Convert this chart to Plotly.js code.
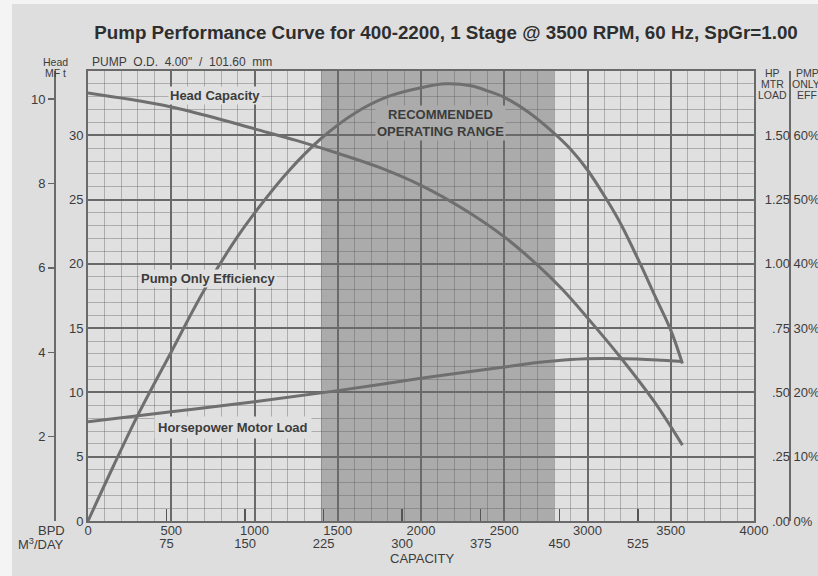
<!DOCTYPE html>
<html><head><meta charset="utf-8">
<script src="https://cdn.plot.ly/plotly-3.0.1.min.js"></script>
<style>html,body{margin:0;padding:0;background:#fff}#chart{width:818px;height:576px}</style>
</head><body><div id="chart"></div>
<script>
// ---- data ----
const headBpd = [0, 250, 500, 750, 1000, 1250, 1500, 1750, 2000, 2250, 2500, 2700, 2850, 3000, 3200, 3400, 3570];
const headFt  = [33.3, 32.8, 32.2, 31.4, 30.5, 29.6, 28.6, 27.5, 26.1, 24.3, 22.1, 19.9, 18.0, 15.8, 12.7, 9.3, 5.9];

const effBpd = [0, 150, 300, 500, 700, 900, 1000, 1200, 1400, 1600, 1800, 2000, 2150, 2300, 2400, 2500, 2650, 2800, 2900, 3000, 3115, 3200, 3315, 3400, 3500, 3570];
const effPct = [0, 8.4, 16.5, 26.3, 36.0, 44.3, 47.9, 54.3, 59.5, 63.4, 66.0, 67.4, 68.0, 67.7, 66.9, 65.9, 63.5, 60.3, 57.8, 54.6, 50.0, 46.2, 40.1, 35.3, 29.7, 24.5];

const hpBpd  = [0, 500, 1000, 1500, 2000, 2500, 2700, 2900, 3100, 3300, 3450, 3570];
const hpLoad = [0.386, 0.425, 0.464, 0.507, 0.555, 0.599, 0.616, 0.628, 0.632, 0.630, 0.625, 0.620];

const bpdTicks = [0, 500, 1000, 1500, 2000, 2500, 3000, 3500, 4000];
const m3Ticks = [75, 150, 225, 300, 375, 450, 525];
const headFtTicks = [0, 5, 10, 15, 20, 25, 30];
const headMTicks = [2, 4, 6, 8, 10];
const hpTicks = [0, 0.25, 0.5, 0.75, 1.0, 1.25, 1.5];
const hpTickText = ['.00', '.25', '.50', '.75', '1.00', '1.25', '1.50'];
const effTicks = [0, 10, 20, 30, 40, 50, 60];
const effTickText = ['0%', '10%', '20%', '30%', '40%', '50%', '60%'];
const recommendedRange = [1400, 2800];

const BBL_PER_M3 = 6.2898;
const FT_PER_M = 3.28084;
const BPD_MAX = 4000, FT_MAX = 35;

// ---- layout helpers (pixel -> paper, margins are 0) ----
const W = 818, H = 576;
const px = x => x / W;
const py = y => 1 - y / H;

const curveColor = '#6f6f6f';
const txt = '#3c3c3c';
const sans = 'Liberation Sans, Arial, sans-serif';

const traces = [
  {x: headBpd, y: headFt, xaxis: 'x', yaxis: 'y', mode: 'lines', line: {color: curveColor, width: 3, shape: 'spline', smoothing: 1}, hoverinfo: 'skip'},
  {x: effBpd, y: effPct, xaxis: 'x', yaxis: 'y4', mode: 'lines', line: {color: curveColor, width: 3, shape: 'spline', smoothing: 1}, hoverinfo: 'skip'},
  {x: hpBpd, y: hpLoad, xaxis: 'x', yaxis: 'y3', mode: 'lines', line: {color: curveColor, width: 3, shape: 'spline', smoothing: 1}, hoverinfo: 'skip'},
  // empty carriers so the secondary scales get drawn
  {x: m3Ticks, y: m3Ticks.map(() => null), xaxis: 'x2', yaxis: 'y', mode: 'markers', marker: {opacity: 0}, hoverinfo: 'skip'},
  {x: [null], y: headMTicks.map(() => null), xaxis: 'x', yaxis: 'y2', mode: 'markers', marker: {opacity: 0}, hoverinfo: 'skip'}
];

const xDom = [px(88), px(754)];
const yDom = [py(521), py(71)];
const gridMajor = '#6a6a6a';
const gridMinor = 'rgba(90,90,90,0.38)';
const tickFont = {family: sans, size: 13, color: txt};

function label(text, x, y, opts) {
  return Object.assign({text: text, x: px(x), y: py(y), xref: 'paper', yref: 'paper', showarrow: false,
    xanchor: 'center', yanchor: 'middle', font: {family: sans, size: 13, color: txt}}, opts || {});
}
const bold13 = {family: sans, size: 13, color: txt, weight: 'bold'};
const small = {family: sans, size: 10.5, color: txt};

const layout = {
  width: W, height: H,
  margin: {l: 0, r: 0, t: 0, b: 0, autoexpand: false},
  paper_bgcolor: '#dedede',
  plot_bgcolor: '#e0e0e0',
  showlegend: false,
  hovermode: false,
  title: {text: 'Pump Performance Curve for 400-2200, 1 Stage @ 3500 RPM, 60 Hz, SpGr=1.00',
          font: {family: sans, size: 18.8, color: '#2e2e2e', weight: 'bold'},
          x: px(446), xanchor: 'center', y: py(32), yanchor: 'middle', xref: 'paper', yref: 'container'},
  xaxis: {
    domain: xDom, range: [0, BPD_MAX], anchor: 'y',
    tickmode: 'array', tickvals: bpdTicks, ticks: '', tickfont: tickFont, ticklabelstandoff: -4,
    showgrid: true, gridcolor: gridMajor, gridwidth: 2,
    minor: {tickmode: 'linear', tick0: 0, dtick: 100, showgrid: true, gridcolor: gridMinor, gridwidth: 1},
    showline: true, mirror: true, linecolor: '#6a6a6a', linewidth: 2, zeroline: false, fixedrange: true
  },
  xaxis2: {
    overlaying: 'x', anchor: 'y', side: 'bottom', range: [0, BPD_MAX / BBL_PER_M3],
    tickmode: 'array', tickvals: m3Ticks, ticks: 'inside', ticklen: 12, tickwidth: 1.5, tickcolor: '#555',
    tickfont: tickFont, ticklabelstandoff: 13, showgrid: false, showline: false, zeroline: false, fixedrange: true
  },
  yaxis: {
    domain: yDom, range: [0, FT_MAX], anchor: 'x',
    tickmode: 'array', tickvals: headFtTicks, ticks: '', tickfont: tickFont,
    showgrid: true, gridcolor: gridMajor, gridwidth: 2,
    minor: {tickmode: 'linear', tick0: 0, dtick: 1, showgrid: true, gridcolor: gridMinor, gridwidth: 1},
    showline: true, mirror: true, linecolor: '#6a6a6a', linewidth: 2, zeroline: false, fixedrange: true
  },
  yaxis2: {
    overlaying: 'y', anchor: 'free', position: px(55), side: 'left', range: [0, FT_MAX / FT_PER_M],
    tickmode: 'array', tickvals: headMTicks, ticks: 'outside', ticklen: 6, tickcolor: '#666', tickwidth: 1.5,
    tickfont: tickFont, showgrid: false, showline: true, linecolor: '#6a6a6a', linewidth: 2, zeroline: false, fixedrange: true
  },
  yaxis3: {
    overlaying: 'y', anchor: 'free', position: px(790), side: 'left', range: [0, FT_MAX / 20],
    tickmode: 'array', tickvals: hpTicks, ticktext: hpTickText, ticks: '',
    tickfont: tickFont, showgrid: false, showline: false, zeroline: false, fixedrange: true
  },
  yaxis4: {
    overlaying: 'y', anchor: 'free', position: px(790), side: 'right', range: [0, FT_MAX * 2],
    tickmode: 'array', tickvals: effTicks, ticktext: effTickText, ticks: '',
    tickfont: tickFont, showgrid: false, showline: true, linecolor: '#6a6a6a', linewidth: 2, zeroline: false, fixedrange: true
  },
  shapes: [
    {type: 'rect', xref: 'x', yref: 'y', x0: recommendedRange[0], x1: recommendedRange[1], y0: 0, y1: FT_MAX,
     fillcolor: '#ababab', line: {width: 0}, layer: 'below'},
    {type: 'rect', xref: 'paper', yref: 'paper', x0: 0, x1: px(12), y0: 0, y1: 1, fillcolor: '#f4f4f4', line: {width: 0}, layer: 'below'},
    {type: 'rect', xref: 'paper', yref: 'paper', x0: 0, x1: 1, y0: py(4), y1: 1, fillcolor: '#f4f4f4', line: {width: 0}, layer: 'below'}
  ],
  annotations: [
    label('Head Capacity', 215, 95, {font: bold13, bgcolor: '#e0e0e0', borderpad: 1}),
    label('Pump Only Efficiency', 208, 278, {font: bold13, bgcolor: '#e0e0e0', borderpad: 1}),
    label('Horsepower Motor Load', 233, 427, {font: bold13, bgcolor: '#e0e0e0', borderpad: 3}),
    label('RECOMMENDED<br>OPERATING RANGE', 440, 123, {font: bold13, bgcolor: '#ababab', borderpad: 1}),
    label('PUMP&nbsp; O.D.&nbsp; 4.00"&nbsp; /&nbsp; 101.60&nbsp; mm', 90, 62, {xanchor: 'left', font: {family: sans, size: 12, color: txt}}),
    label('Head', 55, 62, {font: small}),
    label('MF t', 55, 73, {font: small}),
    label('HP', 772, 73, {font: small}),
    label('MTR', 772, 84, {font: small}),
    label('LOAD', 772, 95, {font: small}),
    label('PMP', 807, 73, {font: small}),
    label('ONLY', 806, 84, {font: small}),
    label('EFF', 807, 95, {font: small}),
    label('BPD', 67, 530, {xanchor: 'right'}),
    label('M<sup>3</sup>/DAY', 66, 544, {xanchor: 'right'}),
    label('CAPACITY', 422, 558)
  ]
};

Plotly.newPlot('chart', traces, layout, {displayModeBar: false, staticPlot: true});
</script>
</body></html>
